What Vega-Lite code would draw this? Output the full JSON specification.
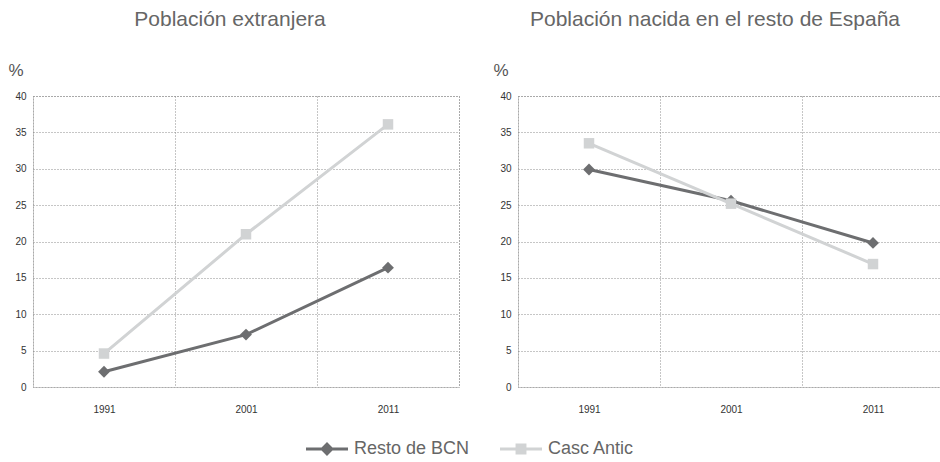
{
  "$schema": "https://vega.github.io/schema/vega-lite/v6.json",
  "background": "white",
  "padding": {"left": 7, "top": 8, "right": 0, "bottom": 0},
  "config": {
    "font": "Liberation Sans, Arial, sans-serif",
    "view": {"stroke": "#8c8c8c", "strokeDash": [1, 2], "strokeWidth": 1},
    "axis": {"gridColor": "#8c8c8c", "gridDash": [1, 2], "gridWidth": 1, "gridOpacity": 1},
    "title": {"fontSize": 21, "fontWeight": "normal", "color": "#666666", "anchor": "middle", "baseline": "alphabetic", "offset": 31, "dx": -16}
  },
  "datasets": {
    "d": [
      {"panel": "ext", "serie": "Resto de BCN", "year": "1991", "value": 2.1},
      {"panel": "ext", "serie": "Resto de BCN", "year": "2001", "value": 7.2},
      {"panel": "ext", "serie": "Resto de BCN", "year": "2011", "value": 16.4},
      {"panel": "ext", "serie": "Casc Antic", "year": "1991", "value": 4.6},
      {"panel": "ext", "serie": "Casc Antic", "year": "2001", "value": 21.0},
      {"panel": "ext", "serie": "Casc Antic", "year": "2011", "value": 36.1},
      {"panel": "esp", "serie": "Resto de BCN", "year": "1991", "value": 29.9},
      {"panel": "esp", "serie": "Resto de BCN", "year": "2001", "value": 25.6},
      {"panel": "esp", "serie": "Resto de BCN", "year": "2011", "value": 19.8},
      {"panel": "esp", "serie": "Casc Antic", "year": "1991", "value": 33.5},
      {"panel": "esp", "serie": "Casc Antic", "year": "2001", "value": 25.2},
      {"panel": "esp", "serie": "Casc Antic", "year": "2011", "value": 16.9}
    ]
  },
  "spacing": 32,
  "resolve": {"scale": {"color": "shared", "shape": "shared"}, "legend": {"color": "shared", "shape": "shared"}},
  "hconcat": [
    {
      "width": 426, "height": 291,
      "title": {"text": "Población extranjera"},
      "data": {"name": "d"},
      "transform": [{"filter": "datum.panel === 'ext'"}],
      "encoding": {
        "x": {"field": "year", "type": "ordinal", "scale": {"paddingInner": 0, "paddingOuter": 0},
              "axis": {"title": null, "labelAngle": 0, "ticks": false, "domain": false, "tickBand": "extent", "grid": true, "labelPadding": 17, "labelFontSize": 10, "labelColor": "#333333"}},
        "y": {"field": "value", "type": "quantitative", "scale": {"domain": [0, 40]},
              "axis": {"title": "%", "titleAngle": 0, "titleAlign": "left", "titleBaseline": "alphabetic", "titleX": -25, "titleY": -21, "titleFontSize": 17, "titleFontWeight": "normal", "titleColor": "#555555",
                       "values": [0, 5, 10, 15, 20, 25, 30, 35, 40], "ticks": false, "domain": false, "labelPadding": 7, "labelFontSize": 10, "labelColor": "#333333"}}
      },
      "layer": [
        {"transform": [{"filter": "datum.serie === 'Resto de BCN'"}], "mark": {"type": "line", "color": "#6d6e70", "strokeWidth": 3}},
        {"transform": [{"filter": "datum.serie === 'Resto de BCN'"}], "mark": {"type": "point", "shape": "diamond", "filled": true, "opacity": 1, "size": 140, "color": "#6d6e70"}},
        {"transform": [{"filter": "datum.serie === 'Casc Antic'"}], "mark": {"type": "line", "color": "#d1d3d4", "strokeWidth": 3}},
        {"transform": [{"filter": "datum.serie === 'Casc Antic'"}], "mark": {"type": "point", "shape": "square", "filled": true, "opacity": 1, "size": 110, "color": "#d1d3d4"}},
        {"transform": [{"filter": "false"}], "mark": {"type": "point", "filled": true, "opacity": 1, "size": 1764},
         "encoding": {
           "color": {"field": "serie", "type": "nominal", "scale": {"domain": ["Resto de BCN", "Casc Antic"], "range": ["#6d6e70", "#d1d3d4"]},
                     "legend": {"orient": "none", "legendX": 273, "legendY": 332, "direction": "horizontal", "padding": 0, "labelFontSize": 18, "labelColor": "#666666", "labelOffset": 6, "symbolSize": 1764, "columnPadding": 30, "symbolStrokeWidth": 0, "title": null}},
           "shape": {"field": "serie", "type": "nominal", "scale": {"domain": ["Resto de BCN", "Casc Antic"], "range": ["M-1,-0.07H1V0.07H-1Z M0,-0.33L0.33,0L0,0.33L-0.33,0Z", "M-1,-0.07H1V0.07H-1Z M-0.26,-0.26H0.26V0.26H-0.26Z"]},
                     "legend": {"orient": "none", "legendX": 273, "legendY": 332, "direction": "horizontal", "padding": 0, "labelFontSize": 18, "labelColor": "#666666", "labelOffset": 6, "symbolSize": 1764, "columnPadding": 30, "symbolStrokeWidth": 0, "title": null}}
         }}
      ]
    },
    {
      "width": 426, "height": 291,
      "title": {"text": "Población nacida en el resto de España"},
      "data": {"name": "d"},
      "transform": [{"filter": "datum.panel === 'esp'"}],
      "encoding": {
        "x": {"field": "year", "type": "ordinal", "scale": {"paddingInner": 0, "paddingOuter": 0},
              "axis": {"title": null, "labelAngle": 0, "ticks": false, "domain": false, "tickBand": "extent", "grid": true, "labelPadding": 17, "labelFontSize": 10, "labelColor": "#333333"}},
        "y": {"field": "value", "type": "quantitative", "scale": {"domain": [0, 40]},
              "axis": {"title": "%", "titleAngle": 0, "titleAlign": "left", "titleBaseline": "alphabetic", "titleX": -25, "titleY": -21, "titleFontSize": 17, "titleFontWeight": "normal", "titleColor": "#555555",
                       "values": [0, 5, 10, 15, 20, 25, 30, 35, 40], "ticks": false, "domain": false, "labelPadding": 7, "labelFontSize": 10, "labelColor": "#333333"}}
      },
      "layer": [
        {"transform": [{"filter": "datum.serie === 'Resto de BCN'"}], "mark": {"type": "line", "color": "#6d6e70", "strokeWidth": 3}},
        {"transform": [{"filter": "datum.serie === 'Resto de BCN'"}], "mark": {"type": "point", "shape": "diamond", "filled": true, "opacity": 1, "size": 140, "color": "#6d6e70"}},
        {"transform": [{"filter": "datum.serie === 'Casc Antic'"}], "mark": {"type": "line", "color": "#d1d3d4", "strokeWidth": 3}},
        {"transform": [{"filter": "datum.serie === 'Casc Antic'"}], "mark": {"type": "point", "shape": "square", "filled": true, "opacity": 1, "size": 110, "color": "#d1d3d4"}}
      ]
    }
  ]
}
